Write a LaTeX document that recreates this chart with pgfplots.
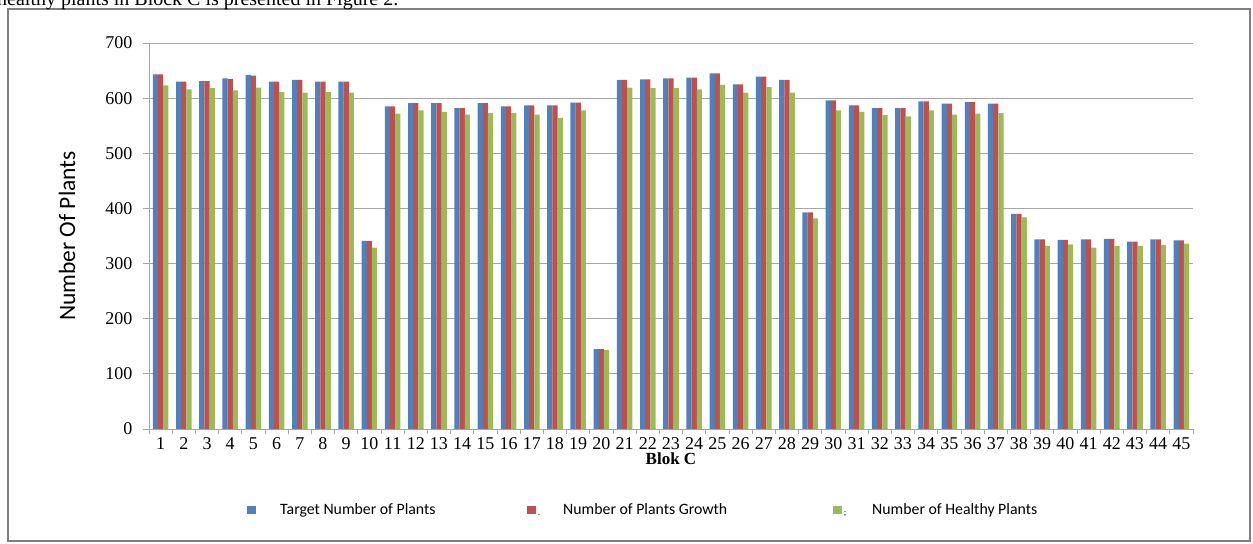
\documentclass[border=0pt]{standalone}
\usepackage{fontspec}
\setmainfont{Liberation Serif}
\newfontfamily\calibri{Carlito}
\usepackage{pgfplots}
\usepackage{pgfplotstable}
\pgfplotsset{compat=1.18}
\definecolor{cblue}{HTML}{4F81BD}
\definecolor{cred}{HTML}{C0504D}
\definecolor{cgreen}{HTML}{9BBB59}
\definecolor{gridgray}{HTML}{A6A6A6}
\definecolor{framegray}{HTML}{7F7F7F}

\pgfplotstableread{
c T G H
1 643 643 623
2 630 630 616
3 631 631 618
4 636 635 614
5 642 641 619
6 630 630 611
7 633 633 610
8 630 630 611
9 630 630 610
10 341 341 329
11 585 585 572
12 591 591 578
13 591 591 575
14 582 582 570
15 591 591 573
16 585 585 573
17 587 587 570
18 587 587 564
19 592 592 578
20 145 145 143
21 633 633 619
22 634 634 618
23 636 636 618
24 637 637 616
25 645 645 624
26 625 625 610
27 639 639 620
28 633 633 610
29 393 393 382
30 596 596 578
31 587 587 575
32 582 582 569
33 582 582 567
34 594 594 578
35 590 590 570
36 593 593 572
37 590 590 573
38 390 390 384
39 344 344 332
40 343 343 335
41 344 344 329
42 345 345 332
43 340 340 332
44 344 344 334
45 342 342 336
}\datatable

\begin{document}
\begin{tikzpicture}
\path[use as bounding box] (0,0) rectangle (1253bp,544bp);
\draw[line width=1.2bp, color=framegray] (8bp,3bp) rectangle (1250bp,535bp);
\node[anchor=base west, inner sep=0pt, font=\fontsize{20bp}{23bp}\selectfont] at (-3bp,538.5bp) {healthy plants in Block C is presented in Figure 2.};
\begin{axis}[
  at={(149bp,115bp)}, anchor=south west,
  scale only axis, width=1044bp, height=386bp,
  ymin=0, ymax=700, xmin=0.5, xmax=45.5,
  ytick={0,100,...,700},
  xtick={1,...,45},
  minor xtick={0.5,1.5,...,45.5},
  tick align=outside,
  major tick length=6bp,
  minor tick length=5bp,
  major x tick style={draw=none},
  minor x tick style={gridgray, line width=0.8bp},
  y tick style={gridgray, line width=0.8bp},
  axis x line*=bottom, axis y line*=left,
  axis line style={gridgray, line width=0.8bp},
  ymajorgrids, grid style={gridgray, line width=0.8bp},
  /pgf/number format/assume math mode=true,
  ticklabel style={font=\fontsize{18bp}{20bp}\selectfont, black},
  yticklabel style={xshift=-7bp},
  xticklabel style={yshift=1bp},
  xlabel={\textbf{Blok C}},
  xlabel style={font=\fontsize{17bp}{20bp}\selectfont, at={(axis description cs:0.5,-0.0777)}, anchor=center},
  ylabel={Number Of Plants},
  ylabel style={font=\calibri\fontsize{23.5bp}{26bp}\selectfont, at={(axis description cs:-0.0785,0.5)}, anchor=center},
  legend style={at={(axis description cs:0.0939,-0.21)}, anchor=west, draw=none, fill=none, inner sep=0pt,
    font=\calibri\fontsize{15.8bp}{17bp}\selectfont,
    nodes={inner sep=0pt},
    /tikz/every even column/.append style={column sep=0pt},
    /tikz/every odd column/.append style={column sep=0pt}},
  legend columns=3,
  legend image code/.code={\fill[#1] (0bp,-4.3bp) rectangle (8.6bp,4.3bp);},
]
\addplot[ybar, bar width=0.224, bar shift=-0.224, fill=cblue, draw=none] table[x=c,y=T]{\datatable};
\addlegendentry{\hspace{24.4bp}\makebox[247bp][l]{Target Number of Plants}}
\addplot[ybar, bar width=0.224, bar shift=0, fill=cred, draw=none] table[x=c,y=G]{\datatable};
\addlegendentry{\hspace{2bp}\rlap{\raisebox{-1bp}{\fontsize{9bp}{9bp}\selectfont .}}\hspace{25.4bp}\makebox[270bp][l]{Number of Plants Growth}}
\addplot[ybar, bar width=0.224, bar shift=0.224, fill=cgreen, draw=none] table[x=c,y=H]{\datatable};
\addlegendentry{\hspace{2bp}\rlap{\raisebox{-1bp}{\fontsize{9bp}{9bp}\selectfont ;}}\hspace{28.4bp}Number of Healthy Plants}
\end{axis}
\end{tikzpicture}
\end{document}
